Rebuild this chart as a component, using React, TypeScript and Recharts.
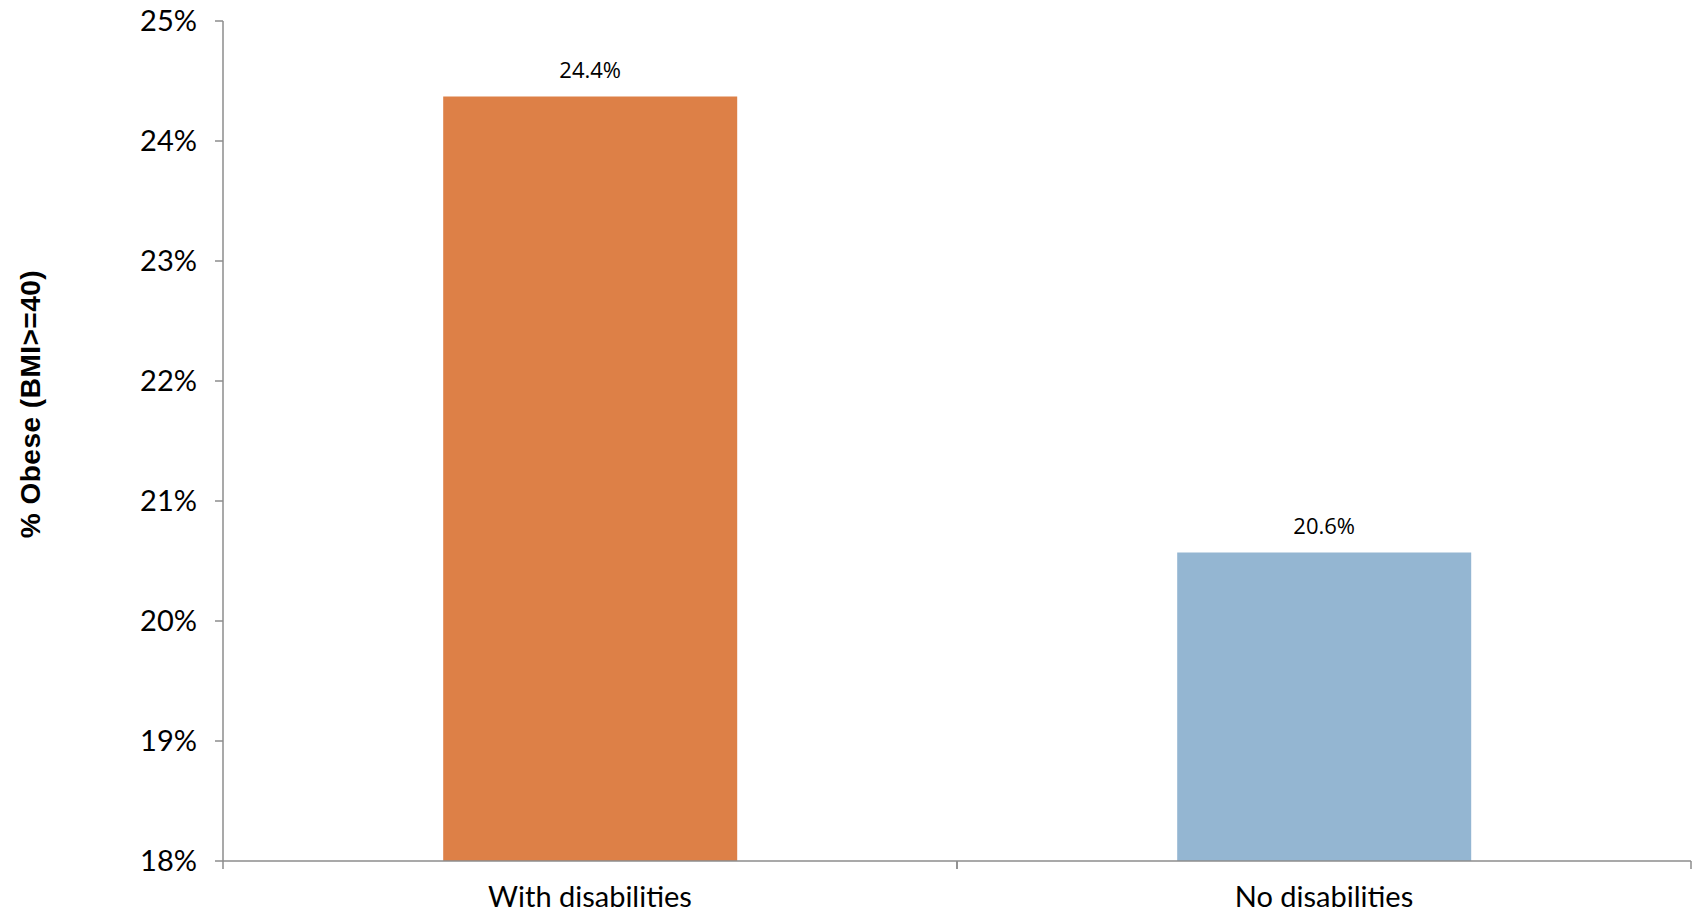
import React from "react";
import { BarChart, Bar, XAxis, YAxis, LabelList, Label } from "recharts";

const categories = ["With disabilities", "No disabilities"];
const obeseValues = [24.37, 20.57];
const barColors = ["#DD8047", "#94B6D2"];
const yTicks = [18, 19, 20, 21, 22, 23, 24, 25];

const data = categories.map((category, i) => ({
  category,
  value: obeseValues[i],
  fill: barColors[i]
}));

const axisGray = "#8c8c8c";
const tickFont = "Lato, 'Open Sans', sans-serif";

// label at the band centre, tick marks at both band edges (payload.offset = half bandwidth)
function BottomTick(props: any) {
  const { x, y, payload } = props;
  const half = payload && typeof payload.offset === "number" ? payload.offset : 0;
  return (
    <g>
      <line x1={x - half} x2={x - half} y1={y} y2={y + 8} stroke={axisGray} strokeWidth={1.5} />
      <line x1={x + half} x2={x + half} y1={y} y2={y + 8} stroke={axisGray} strokeWidth={1.5} />
      <text x={x} y={y + 46} textAnchor="middle" fill="#000" fontSize={29} fontFamily={tickFont}>
        {payload.value}
      </text>
    </g>
  );
}

function YTitle(props: any) {
  const vb = props.viewBox || { x: 0, y: 0, width: 0, height: 0 };
  const cx = vb.x + 30;
  const cy = vb.y + vb.height / 2 - 37;
  return (
    <text
      x={cx}
      y={cy}
      transform={`rotate(-90, ${cx}, ${cy})`}
      textAnchor="middle"
      dominantBaseline="central"
      fontSize={28}
      fontWeight="bold"
      letterSpacing={0.5}
      fontFamily="'Liberation Sans', Arial, sans-serif"
      fill="#000"
    >
      % Obese (BMI&gt;=40)
    </text>
  );
}

export default function App() {
  return (
    <div style={{ position: "absolute", left: 0, top: 0, width: 1694, height: 913, background: "#fff" }}>
      <BarChart
        width={1694}
        height={913}
        data={data}
        margin={{ top: 21, right: 3, bottom: 0, left: 0 }}
        barCategoryGap="30%"
      >
        <XAxis
          dataKey="category"
          interval={0}
          height={52}
          tickLine={false}
          tickSize={0}
          tickMargin={0}
          axisLine={{ stroke: axisGray, strokeWidth: 1.5 }}
          tick={<BottomTick />}
        />
        <YAxis
          domain={[18, 25]}
          ticks={yTicks}
          interval={0}
          width={223}
          allowDataOverflow
          tickFormatter={(v: number) => `${v}%`}
          tickSize={8}
          tickMargin={18}
          tick={{ fill: "#000", fontSize: 29, fontFamily: tickFont }}
          tickLine={{ stroke: axisGray, strokeWidth: 1.5 }}
          axisLine={{ stroke: axisGray, strokeWidth: 1.5 }}
        >
          <Label content={<YTitle />} />
        </YAxis>
        <Bar dataKey="value" isAnimationActive={false}>
          <LabelList
            dataKey="value"
            position="top"
            offset={19}
            formatter={(v: any) => `${Number(v).toFixed(1)}%`}
            style={{ fill: "#000", fontSize: 22, fontFamily: "'Open Sans', sans-serif" }}
          />
        </Bar>
      </BarChart>
    </div>
  );
}
